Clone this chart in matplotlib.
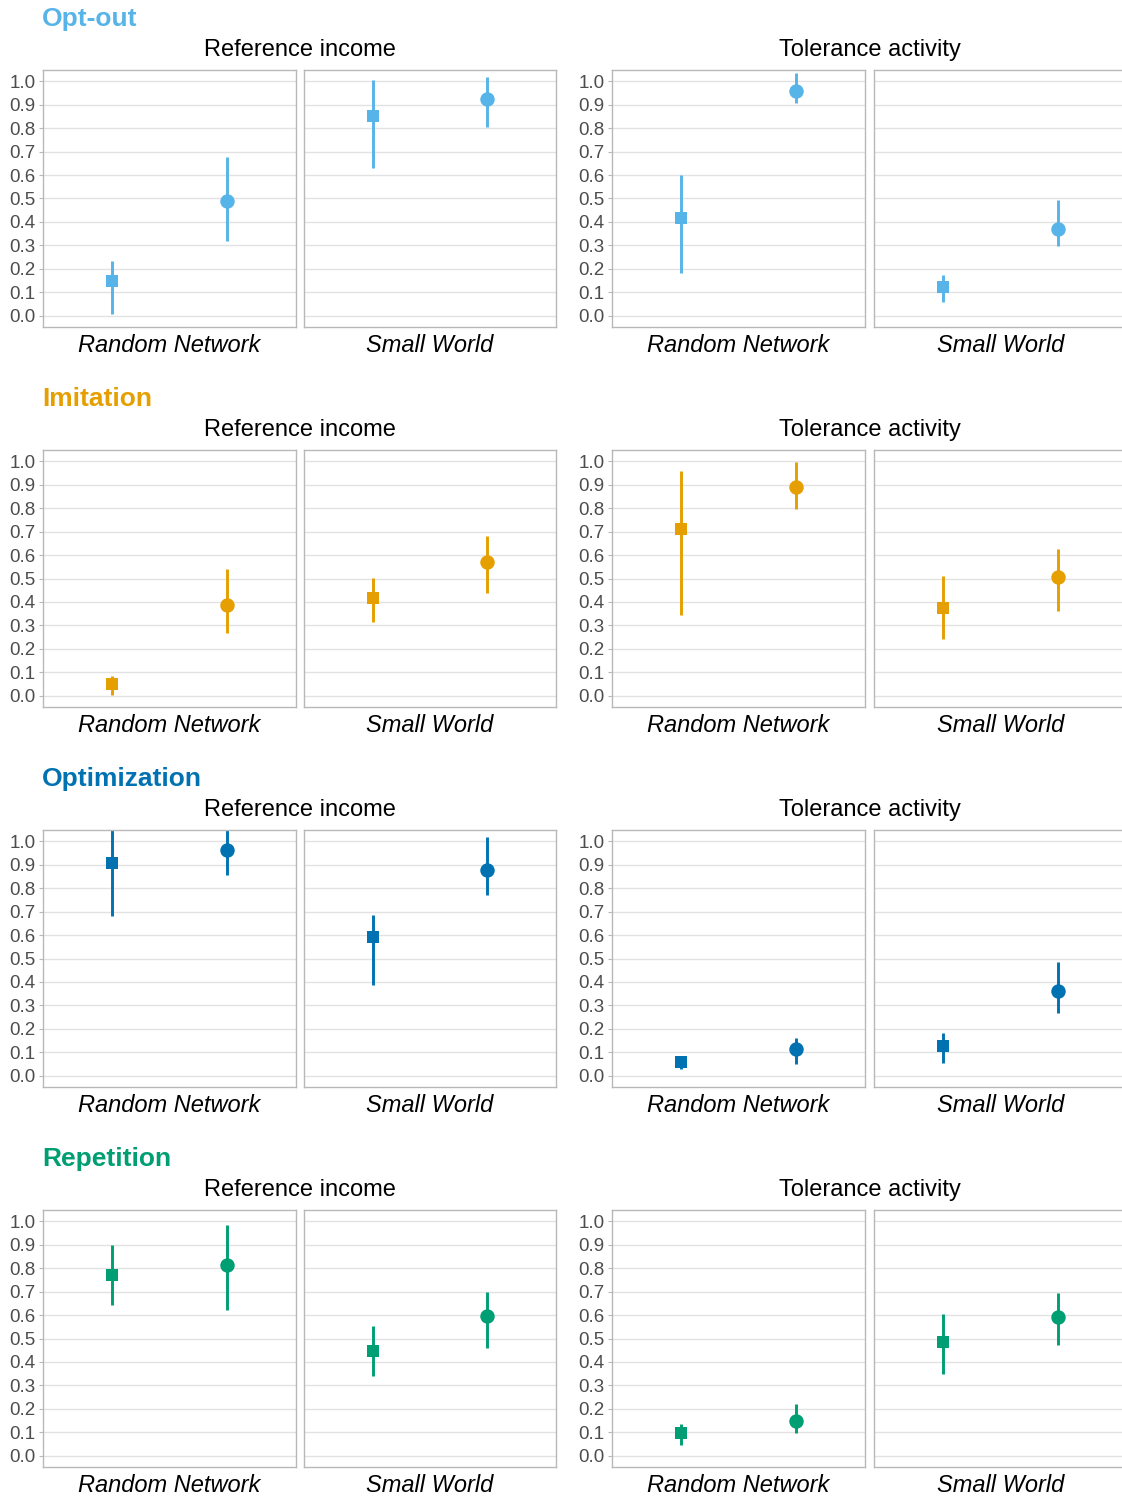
import numpy as np
import matplotlib.pyplot as plt

plt.rcParams['font.family'] = ['Liberation Sans', 'DejaVu Sans']

# strategies (one block of panels each) and their colours
strategies = ["Opt-out", "Imitation", "Optimization", "Repetition"]
colors = ["#56B4E9", "#E69F00", "#0072B2", "#009E73"]
outcomes = ["Reference income", "Tolerance activity"]
networks = ["Random Network", "Small World"]

# per strategy: panels ordered [RefInc/RN, RefInc/SW, Tol/RN, Tol/SW],
# each with (square, circle) estimates and interval bounds
optout_est = [[0.147, 0.491], [0.851, 0.922], [0.417, 0.957], [0.122, 0.371]]
optout_lo = [[0.009, 0.317], [0.630, 0.804], [0.182, 0.906], [0.061, 0.296]]
optout_hi = [[0.236, 0.677], [1.003, 1.018], [0.599, 1.036], [0.174, 0.495]]

imitation_est = [[0.050, 0.388], [0.417, 0.569], [0.711, 0.889], [0.373, 0.506]]
imitation_lo = [[0.004, 0.267], [0.313, 0.437], [0.343, 0.797], [0.242, 0.360]]
imitation_hi = [[0.085, 0.542], [0.502, 0.680], [0.957, 0.996], [0.509, 0.627]]

optim_est = [[0.905, 0.962], [0.592, 0.876], [0.061, 0.114], [0.129, 0.363]]
optim_lo = [[0.683, 0.856], [0.387, 0.772], [0.028, 0.051], [0.057, 0.267]]
optim_hi = [[1.120, 1.068], [0.684, 1.018], [0.085, 0.161], [0.182, 0.486]]

repet_est = [[0.772, 0.814], [0.448, 0.595], [0.097, 0.149], [0.485, 0.593]]
repet_lo = [[0.644, 0.622], [0.341, 0.459], [0.046, 0.097], [0.350, 0.472]]
repet_hi = [[0.899, 0.982], [0.555, 0.700], [0.138, 0.223], [0.606, 0.693]]

estimates = [optout_est, imitation_est, optim_est, repet_est]
lowers = [optout_lo, imitation_lo, optim_lo, repet_lo]
uppers = [optout_hi, imitation_hi, optim_hi, repet_hi]

W, H = 1122, 1498
fig = plt.figure(figsize=(W / 100, H / 100), dpi=100)


def fx(px):
    return px / W


def fy(py):
    return 1 - py / H


# panel columns in pixels, rows repeat every 380 px
cols = [(43, 296), (304, 556), (612, 865), (874, 1127)]
row_step = 380
yticks = np.round(np.arange(0, 1.01, 0.1), 1)

for r, (name, col) in enumerate(zip(strategies, colors)):
    off = r * row_step
    fig.text(fx(42), fy(19 + off), name, color=col, fontsize=19,
             fontweight='bold', ha='left', va='center')
    for g, outcome in enumerate(outcomes):
        xc = (cols[2 * g][0] + cols[2 * g + 1][1]) / 2
        fig.text(fx(xc), fy(50 + off), outcome, fontsize=17,
                 ha='center', va='center', color='black')

    for k in range(4):
        x0, x1 = cols[k]
        y0, y1 = 70 + off, 327 + off
        ax = fig.add_axes([fx(x0), fy(y1), (x1 - x0) / W, (y1 - y0) / H])
        ax.set_xlim(0.4, 2.6)
        ax.set_ylim(-0.047, 1.047)
        ax.set_yticks(yticks)
        ax.grid(axis='y', color='#e2e2e2', linewidth=1.0)
        ax.set_axisbelow(True)
        for sp in ax.spines.values():
            sp.set_color('#b8b8b8')
            sp.set_linewidth(1.0)
        ax.set_xticks([])
        if k % 2 == 0:
            ax.set_yticklabels([f"{t:.1f}" for t in yticks])
            ax.tick_params(axis='y', length=3, width=0.8, color='#b8b8b8',
                           pad=2.5, labelsize=13.5, labelcolor='#4d4d4d')
        else:
            ax.tick_params(axis='y', length=0, labelleft=False)

        est = estimates[r][k]
        lo = lowers[r][k]
        hi = uppers[r][k]
        for j, marker in enumerate(['s', 'o']):
            ax.vlines(j + 1, lo[j], hi[j], color=col, linewidth=2.1)
            ax.plot(j + 1, est[j], marker=marker, color=col,
                    markersize=9.2 if marker == 's' else 10.4,
                    markeredgewidth=0)

        fig.text(fx((x0 + x1) / 2), fy(346 + off), networks[k % 2],
                 fontsize=17, style='italic', ha='center', va='center',
                 color='black')

fig.savefig("out.png", dpi=100)
